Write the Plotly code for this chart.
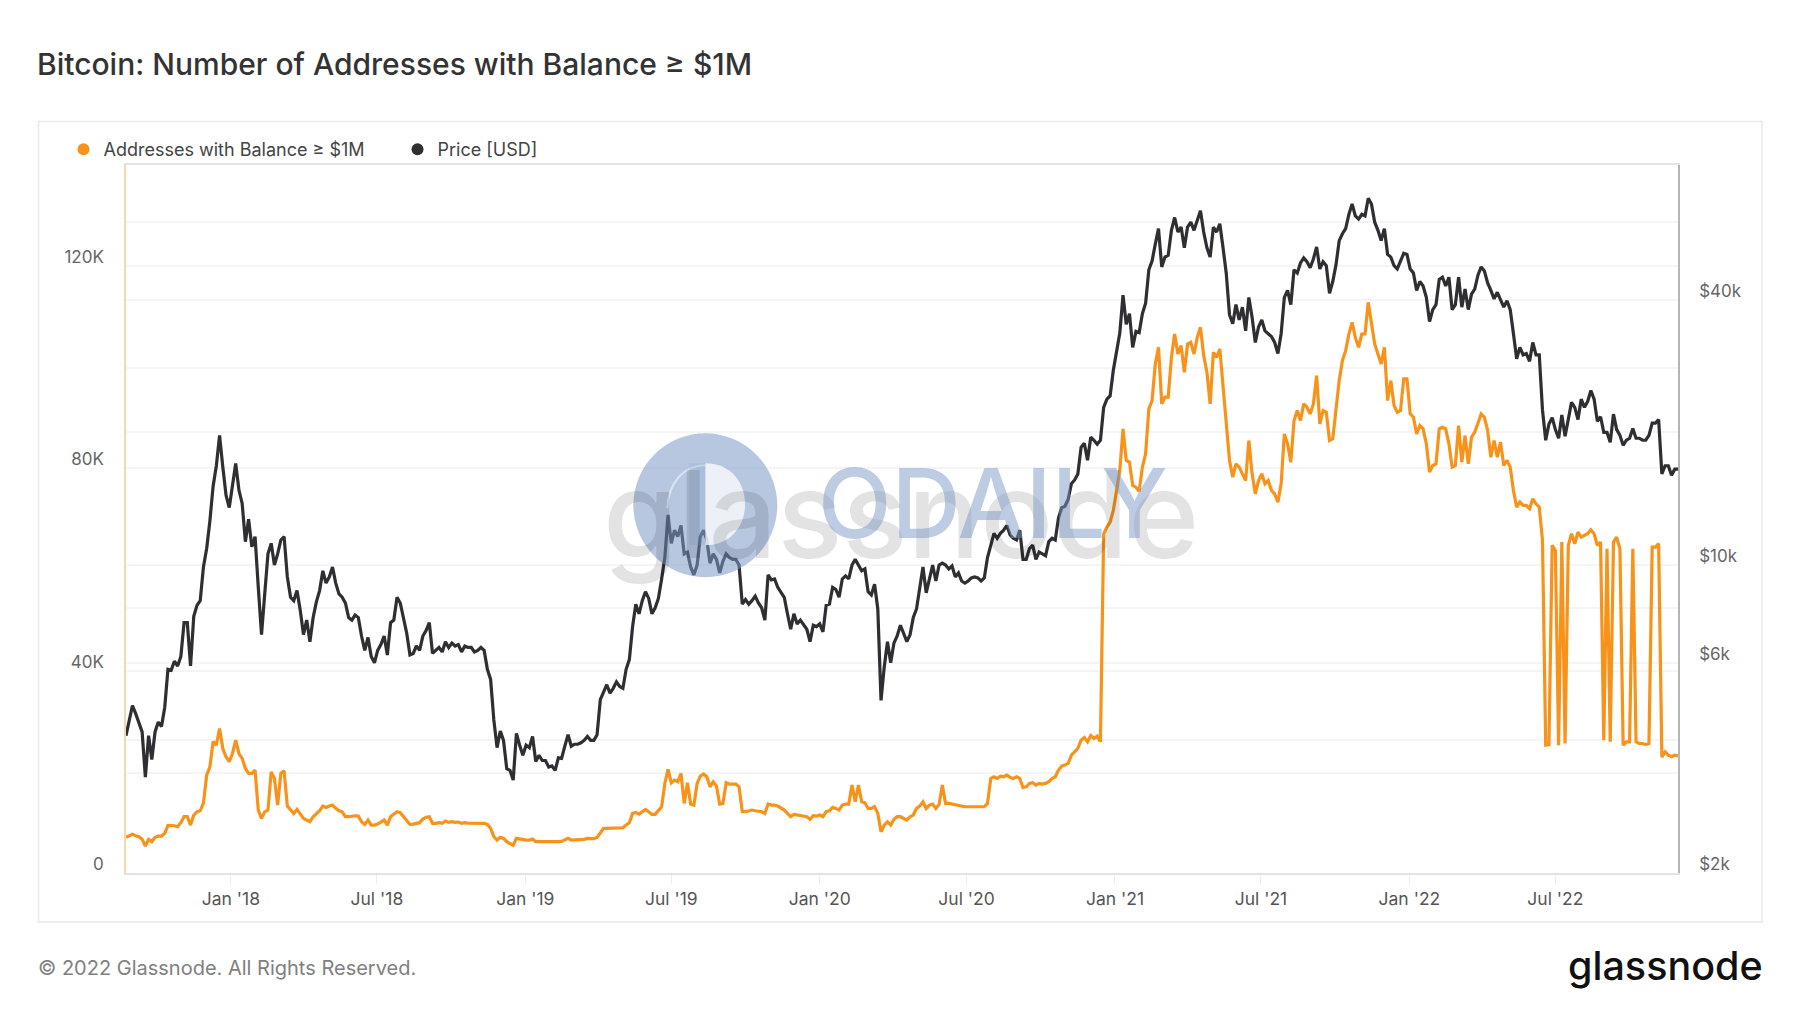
import pandas as pd
import plotly.graph_objects as go

# Values, one every 4 days from the first date
first_date = "2017-08-24"

price_usd = [
    4100, 4400, 4800, 4600, 4400, 4180, 3300, 4100, 3620, 4180, 4400, 4300,
    4750, 5800, 5770, 6050, 5900, 6200, 7400, 7400, 5900, 7650, 8100, 8300,
    9900, 10900, 12600, 15100, 16800, 19700, 16700, 14400, 13500, 15000, 17000, 14800,
    13800, 11300, 12700, 11000, 11600, 8900, 6950, 8600, 10600, 11200, 10000, 10600,
    11400, 11600, 9400, 8450, 8300, 8750, 7900, 6950, 7500, 6700, 7600, 8250,
    8750, 9700, 9100, 9400, 9900, 9100, 8600, 8450, 8200, 7600, 7500, 7700,
    7600, 6900, 6400, 6850, 6200, 6000, 6400, 6600, 6900, 6250, 7400, 7500,
    8450, 8200, 7500, 7000, 6250, 6300, 6550, 6400, 6900, 7100, 7400, 6300,
    6400, 6500, 6350, 6700, 6500, 6650, 6550, 6600, 6350, 6550, 6500, 6500,
    6350, 6400, 6500, 6400, 5800, 5500, 4450, 3850, 4200, 4000, 3450, 3420,
    3250, 4150, 3900, 3700, 3900, 3850, 4080, 3580, 3700, 3600, 3600, 3480,
    3500, 3420, 3650, 3640, 3880, 4120, 3880, 3920, 3920, 3950, 4000, 4080,
    4000, 4000, 4120, 4950, 5150, 5350, 5120, 5250, 5430, 5300, 5250, 5800,
    6100, 7250, 8150, 7750, 8300, 8700, 8400, 7750, 8000, 8400, 9300, 10400,
    13000, 11200, 12000, 11600, 12300, 10600, 10700, 9900, 9500, 10000, 11600, 12000,
    11400, 10100, 10600, 10300, 9600, 10200, 10600, 10400, 10300, 10300, 10000, 8150,
    8350, 8150, 8300, 8500, 8200, 8000, 7500, 9500, 9250, 9300, 8900, 8650,
    8450, 7750, 7150, 7750, 7350, 7500, 7300, 7150, 6700, 7300, 7250, 7350,
    7050, 8100, 8150, 8900, 8800, 8450, 9300, 9450, 9300, 10000, 10300, 9950,
    9700, 9800, 8700, 8550, 9050, 7950, 4930, 5870, 6700, 6000, 6650, 6900,
    7300, 7000, 6700, 6950, 7600, 7950, 8800, 9900, 8650, 9300, 10000, 9200,
    10000, 10100, 10000, 9800, 9950, 9400, 9600, 9200, 9100, 9200, 9350, 9400,
    9350, 9200, 9350, 10400, 11100, 11800, 11500, 11800, 12000, 12300, 11700, 11500,
    11400, 12000, 10300, 10300, 10900, 11100, 10300, 10700, 10600, 10500, 11300, 11500,
    11400, 12800, 13500, 13600, 14100, 15300, 15600, 16100, 18500, 18900, 17300, 19500,
    19200, 18800, 19200, 22800, 23800, 24200, 27700, 30700, 33600, 41000, 35200, 37200,
    31200, 33900, 33700, 37200, 39300, 46800, 49000, 53500, 58000, 47500, 50000, 50500,
    57500, 61500, 57000, 58500, 52500, 58500, 60000, 57500, 60500, 63700, 57000, 52500,
    50000, 58500, 57000, 59500, 52500, 45900, 37000, 35300, 39000, 36000, 38500, 34000,
    40500, 36500, 32000, 34700, 36000, 34000, 33500, 33000, 32000, 30200, 33500, 40500,
    42000, 39000, 46800, 46000, 48500, 49800, 48800, 47300, 49500, 52700, 47000, 48800,
    47800, 41400, 44000, 48000, 54500, 56500, 58000, 62500, 66000, 62000, 61000, 62500,
    62000, 68000, 66000, 60000, 57500, 54500, 58000, 50700, 50000, 47800, 47000, 48800,
    51000, 50700, 47000, 46000, 42000, 44000, 43000, 40500, 35700, 38000, 39000, 44500,
    45000, 43000, 45000, 38000, 39000, 45000, 38500, 42300, 38000, 41200, 42300, 45500,
    47500, 46500, 43700, 42000, 40200, 41600, 40200, 38500, 39800, 38000, 33500, 29400,
    31200, 30000, 30200, 29000, 32000, 30000, 30000, 22500, 19200, 20900, 21600, 20300,
    19400, 21900, 19600, 21400, 23400, 22800, 21400, 23800, 22800, 23500, 24900, 23800,
    21200, 21700, 20000, 20000, 19000, 22000, 20300, 19700, 18700, 19200, 19400, 20400,
    19400, 19400, 19200, 19200, 19700, 21000, 21000, 21400, 16100, 16800, 16800, 16000,
    16500, 16500,
]

addresses = [
    7050, 7300, 7640, 7380, 7180, 6650, 5330, 6650, 6190, 7050, 7300, 7300,
    7840, 9420, 9420, 9350, 9150, 9950, 11130, 11130, 9480, 11450, 12100, 12300,
    13800, 19350, 21000, 26000, 25280, 28570, 24620, 22980, 22000, 23630, 26270, 23630,
    22650, 20670, 19690, 19690, 20350, 12450, 10800, 12100, 12450, 20000, 18700, 13430,
    19690, 20200, 13240, 12450, 11780, 12580, 11780, 10800, 10470, 10140, 11130, 11780,
    12300, 13240, 12970, 13240, 13430, 12780, 12300, 12100, 11130, 11130, 11260, 11320,
    11260, 10140, 9610, 10470, 9480, 9480, 9680, 10010, 10470, 9480, 11130, 11650,
    12100, 11920, 11130, 10470, 9610, 9680, 9810, 9950, 10660, 11000, 11130, 9810,
    9810, 9950, 9810, 10270, 10010, 10140, 10010, 10080, 9810, 9950, 9880, 9880,
    9810, 9810, 9810, 9810, 9610, 8830, 7180, 6520, 7050, 6850, 6190, 5860,
    5470, 6850, 6720, 6520, 6520, 6520, 6720, 6190, 6190, 6190, 6130, 6060,
    6130, 6130, 6190, 6260, 6520, 6850, 6520, 6520, 6520, 6650, 6650, 6850,
    6780, 6780, 7050, 7840, 8820, 8820, 8820, 8890, 8950, 8820, 8950, 9480,
    9940, 11790, 11980, 11650, 12120, 12580, 12120, 11590, 11590, 12450, 13100, 17710,
    20480, 17840, 18370, 18040, 19680, 13760, 17840, 13630, 13430, 17710, 19160, 19560,
    19030, 17050, 18040, 17180, 13630, 13760, 17840, 17580, 17580, 17580, 17050, 12120,
    12120, 12250, 12450, 12310, 12250, 12120, 11790, 13630, 13430, 13430, 13230, 12770,
    12450, 11790, 11130, 11590, 11460, 11460, 11260, 11130, 10600, 11330, 11260, 11460,
    11130, 12120, 12310, 12970, 12770, 12450, 13430, 13630, 13630, 17380, 14090, 17380,
    14090, 13890, 12770, 12770, 13100, 11790, 8170, 9480, 10140, 9480, 10600, 11130,
    11130, 10800, 10470, 11130, 11460, 12770, 13230, 14090, 12770, 13430, 13630, 12770,
    13560, 17380, 13760, 13760, 13630, 13430, 13430, 13230, 13100, 13100, 13100, 13100,
    13040, 12970, 13100, 13760, 18700, 19030, 18700, 19160, 19030, 19350, 18900, 18700,
    19030, 18700, 16920, 17050, 17710, 17840, 17380, 17710, 17580, 17710, 18040, 18700,
    19030, 20350, 21140, 21330, 21660, 23310, 23960, 24620, 26270, 26800, 25940, 27190,
    26600, 27060, 25940, 67000, 68400, 69390, 71700, 75640, 79590, 87820, 81570, 81240,
    76630, 76300, 75500, 80250, 82880, 91770, 93420, 100660, 103950, 92760, 94080, 94080,
    101975, 106580, 102630, 104280, 99010, 104610, 104940, 102630, 105900, 107900, 102300, 99010,
    92760, 102960, 101975, 103620, 96700, 90120, 81570, 78280, 80910, 80250, 78930, 77600,
    85520, 78930, 74980, 77600, 78930, 76960, 77600, 75640, 74980, 73340, 76960, 86830,
    84860, 81240, 89470, 91440, 89470, 92760, 92100, 90780, 92760, 98350, 88810, 91440,
    91110, 85520, 85850, 92100, 97370, 101320, 103290, 106580, 108890, 105900, 103950, 106580,
    106580, 112840, 108560, 104610, 102630, 100660, 103950, 93420, 97370, 92430, 91110, 91440,
    97700, 97700, 90780, 90120, 86830, 88480, 87820, 84860, 79260, 80580, 80910, 87820,
    88150, 87820, 84860, 80250, 80580, 88480, 81240, 86500, 80910, 86170, 87160, 89140,
    90780, 90120, 87490, 82220, 85520, 82220, 85190, 80580, 81570, 80250, 75640, 72350,
    73340, 72680, 72680, 72020, 73990, 73000, 72350, 65770, 25280, 25400, 64780, 63790,
    25280, 65440, 25610, 64780, 67080, 65110, 67410, 66430, 66760, 67080, 67880, 67080,
    64780, 65440, 26270, 64120, 25940, 65440, 66400, 64120, 25280, 25940, 25940, 64120,
    25940, 25610, 25610, 25410, 25610, 64450, 64450, 65110, 22900, 23960, 23300, 22980,
    23300, 23170,
]

addr_ticks = [0, 40000, 80000, 120000]
addr_tick_labels = ["0", "40K", "80K", "120K"]

price_ticks = [2000, 3370, 4000, 6000, 8000, 10000, 20000, 28000, 40000, 60000]
price_tick_labels = ["$2k", "", "", "$6k", "", "$10k", "", "", "$40k", ""]

month_ticks = [
    "2018-01-01", "2018-07-01", "2019-01-01", "2019-07-01", "2020-01-01",
    "2020-07-01", "2021-01-01", "2021-07-01", "2022-01-01", "2022-07-01",
]
month_labels = [
    "Jan '18", "Jul '18", "Jan '19", "Jul '19", "Jan '20",
    "Jul '20", "Jan '21", "Jul '21", "Jan '22", "Jul '22",
]

ORANGE = "#f7931a"
DARK = "#2f2f33"
ODAILY_BLUE = "rgba(124,153,198,0.55)"
FONT = "Inter"
WIDTH, HEIGHT = 1800, 1013
LEFT, RIGHT, TOP, BOTTOM = 125.5, 1678, 164.5, 873


# Page pixels to paper coordinates, for the decoration around the plot
def px(x):
    return (x - LEFT) / (RIGHT - LEFT)


def py(y):
    return (BOTTOM - y) / (BOTTOM - TOP)


addr_dates = pd.date_range(first_date, periods=len(addresses), freq="4D")
price_dates = pd.date_range(first_date, periods=len(price_usd), freq="4D")

fig = go.Figure()
fig.add_trace(
    go.Scatter(
        x=addr_dates, y=addresses, mode="lines", yaxis="y",
        line=dict(color=ORANGE, width=3.2), showlegend=False,
        name="Addresses with Balance ≥ $1M",
    )
)
fig.add_trace(
    go.Scatter(
        x=price_dates, y=price_usd, mode="lines", yaxis="y2",
        line=dict(color=DARK, width=3.2), showlegend=False,
        name="Price [USD]",
    )
)

# Marker-only entries so the legend shows dots instead of line samples
for name, color in [("Addresses with Balance ≥ $1M", ORANGE), ("Price [USD]", DARK)]:
    fig.add_trace(
        go.Scatter(
            x=[None], y=[None], mode="markers", name=name,
            marker=dict(color=color, size=15),
        )
    )

# Right half of the hole in the Odaily mark, drawn with a bezier
half_hole = (
    f"M {px(705)},{py(463)} C {px(758)},{py(463)} {px(758)},{py(545)} {px(705)},{py(545)} Z"
)
left_arc = (
    f"M {px(705)},{py(465)} C {px(684)},{py(465)} {px(668)},{py(482)} {px(667)},{py(508)}"
)

fig.update_layout(
    width=WIDTH,
    height=HEIGHT,
    margin=dict(l=LEFT, r=WIDTH - RIGHT, t=TOP, b=HEIGHT - BOTTOM, autoexpand=False),
    paper_bgcolor="white",
    plot_bgcolor="white",
    font=dict(family=FONT, color="#666666", size=16),
    title=dict(
        text="Bitcoin: Number of Addresses with Balance ≥ $1M",
        xref="container", yref="container",
        x=37 / WIDTH, y=1 - 64 / HEIGHT, xanchor="left", yanchor="middle",
        font=dict(family=FONT, size=30, color="#333333", weight=500),
    ),
    legend=dict(
        orientation="h", x=px(63), y=py(149), xanchor="left", yanchor="middle",
        font=dict(family=FONT, size=18, color="#444444"),
        itemsizing="constant", itemclick=False, itemdoubleclick=False,
        entrywidth=289, entrywidthmode="pixels", bgcolor="rgba(0,0,0,0)",
    ),
    xaxis=dict(
        type="date",
        range=[first_date, "2022-11-30"],
        tickvals=month_ticks,
        ticktext=month_labels,
        ticks="outside",
        ticklen=9,
        tickcolor="#eeeeee",
        tickfont=dict(size=17.5, color="#555555"),
        showgrid=False,
        zeroline=False,
        showline=True,
        linecolor="#e3e3e3",
        linewidth=1.5,
        mirror=True,
    ),
    yaxis=dict(
        range=[0, 140000],
        tickvals=addr_ticks,
        ticktext=addr_tick_labels,
        ticks="",
        ticklabelstandoff=17,
        ticklabelshift=-9,
        tickfont=dict(size=17, color="#666666"),
        gridcolor="#f5f5f5",
        gridwidth=1.5,
        zeroline=False,
        showline=True,
        linecolor="#fbd6a6",
        linewidth=1.5,
    ),
    yaxis2=dict(
        type="log",
        overlaying="y",
        side="right",
        range=[3.301, 4.908],
        tickvals=price_ticks,
        ticktext=price_tick_labels,
        ticks="",
        ticklabelstandoff=16,
        ticklabelshift=-9,
        tickfont=dict(size=17, color="#666666"),
        gridcolor="#f5f5f5",
        gridwidth=1.5,
        zeroline=False,
        showline=True,
        linecolor="#b5b5b5",
        linewidth=1.5,
    ),
    shapes=[
        # Card around the chart
        dict(
            type="rect", xref="paper", yref="paper", layer="below",
            x0=px(38), x1=px(1762), y0=py(922), y1=py(121),
            line=dict(color="#e9e9e9", width=1.5), fillcolor="rgba(0,0,0,0)",
        ),
        # Odaily watermark mark
        dict(
            type="circle", xref="paper", yref="paper", layer="above",
            x0=px(633), x1=px(777), y0=py(577), y1=py(433),
            line=dict(width=0), fillcolor=ODAILY_BLUE,
        ),
        dict(
            type="path", path=half_hole, xref="paper", yref="paper", layer="above",
            line=dict(width=0), fillcolor="rgba(255,255,255,0.75)",
        ),
        dict(
            type="path", path=left_arc, xref="paper", yref="paper", layer="above",
            line=dict(width=2, color="rgba(255,255,255,0.5)"), fillcolor="rgba(0,0,0,0)",
        ),
        dict(
            type="rect", xref="paper", yref="paper", layer="above",
            x0=px(689), x1=px(705), y0=py(545), y1=py(463),
            line=dict(width=0), fillcolor="rgba(124,153,198,0.2)",
        ),
    ],
    annotations=[
        # Glassnode watermark
        dict(
            text="glassnode", xref="paper", yref="paper",
            x=px(901), y=py(514), xanchor="center", yanchor="middle",
            showarrow=False,
            font=dict(family=FONT, size=121, color="rgba(0,0,0,0.11)", weight=500),
        ),
        # Odaily watermark wordmark
        dict(
            text="ODAILY", xref="paper", yref="paper",
            x=px(993), y=py(503), xanchor="center", yanchor="middle",
            showarrow=False,
            font=dict(family=FONT, size=96, color="rgba(124,153,198,0.5)", weight=500),
        ),
        # Footer
        dict(
            text="© 2022 Glassnode. All Rights Reserved.", xref="paper", yref="paper",
            x=px(35), y=py(968), xanchor="left", yanchor="middle",
            showarrow=False, font=dict(family=FONT, size=20, color="#808080"),
        ),
        dict(
            text="glassnode", xref="paper", yref="paper",
            x=px(1765), y=py(966), xanchor="right", yanchor="middle",
            showarrow=False, font=dict(family=FONT, size=39.5, color="#111111", weight=500),
        ),
    ],
)

fig.write_html(
    "out.html",
    config=dict(displayModeBar=False),
    post_script="document.body.style.margin = '0';",
)
